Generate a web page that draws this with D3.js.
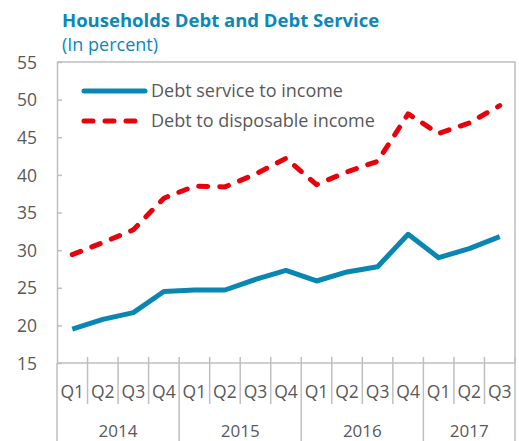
<!DOCTYPE html>
<html>
<head>
<meta charset="utf-8">
<script src="https://cdn.jsdelivr.net/npm/d3@7"></script>
<style>
  html, body { margin: 0; padding: 0; background: #fff; }
  svg { display: block; font-family: "Open Sans", "Noto Sans", sans-serif; }
</style>
</head>
<body>
<svg id="chart" width="519" height="441"></svg>
<script>
// Quarterly periods, Q1 2014 – Q3 2017
const periods = [
  "2014Q1", "2014Q2", "2014Q3", "2014Q4",
  "2015Q1", "2015Q2", "2015Q3", "2015Q4",
  "2016Q1", "2016Q2", "2016Q3", "2016Q4",
  "2017Q1", "2017Q2", "2017Q3"
];
const years = ["2014", "2015", "2016", "2017"];

// Series (percent)
const debtServiceToIncome = [19.5, 20.8, 21.7, 24.5, 24.7, 24.7, 26.1, 27.3, 25.9, 27.1, 27.8, 32.1, 29.0, 30.2, 31.8];
const debtToDisposableIncome = [29.4, 31.0, 32.7, 36.9, 38.5, 38.4, 40.1, 42.2, 38.7, 40.4, 41.8, 48.1, 45.5, 46.9, 49.2];

const yTicks = [15, 20, 25, 30, 35, 40, 45, 50, 55];

const seriesNames = ["Debt service to income", "Debt to disposable income"];

const textColor = "#595959";
const axisColor = "#bfbfbf";
const blue = "#0a86b3";
const red = "#e8000b";
const titleColor = "#0a88b8";

const svg = d3.select("#chart");
const margin = { left: 57, right: 4, top: 62, bottom: 78 };
const W = 519, H = 441;
const x0 = margin.left, x1 = W - margin.right;
const y0 = H - margin.bottom, y1 = margin.top;

const x = d3.scaleBand().domain(periods).range([x0, x1]).padding(0);
const y = d3.scaleLinear().domain([15, 55]).range([y0, y1]);

// Title
svg.append("text").attr("x", 62).attr("y", 27)
  .attr("fill", titleColor).attr("font-weight", 700).attr("font-size", 18.5)
  .text("Households Debt and Debt Service");
svg.append("text").attr("x", 62).attr("y", 51)
  .attr("fill", titleColor).attr("font-size", 18)
  .text("(In percent)");

// Plot frame (top and right)
svg.append("path")
  .attr("d", `M${x0},${y1}H${x1}V${y0}`)
  .attr("fill", "none").attr("stroke", axisColor).attr("stroke-width", 1.5);

// Y axis with inward ticks
const yAxis = d3.axisLeft(y).tickValues(yTicks).tickSize(-5).tickPadding(0).tickFormat(d3.format("d"));
const gy = svg.append("g").attr("transform", `translate(${x0},0)`).call(yAxis);
gy.select(".domain").attr("stroke", axisColor).attr("stroke-width", 1.5);
gy.selectAll(".tick line").attr("stroke", axisColor).attr("stroke-width", 1.5);
gy.selectAll(".tick text")
  .attr("x", 37 - x0).attr("text-anchor", "end").attr("dy", "0.35em")
  .attr("fill", textColor).attr("font-size", 17.5)
  .attr("font-family", "'Open Sans', sans-serif");
gy.selectAll(".tick").filter(d => d === 15 || d === 55).select("line").remove();
// left axis extends down through the category labels
svg.append("line").attr("x1", x0).attr("x2", x0).attr("y1", y0).attr("y2", H)
  .attr("stroke", axisColor).attr("stroke-width", 1.5);

// X axis baseline
svg.append("line").attr("x1", x0).attr("x2", x1).attr("y1", y0).attr("y2", y0)
  .attr("stroke", axisColor).attr("stroke-width", 1.5);

// Quarter separators and year separators
const xg = svg.append("g");
periods.forEach((p, i) => {
  if (i === 0) return;
  const xx = x(p);
  const isYearStart = p.endsWith("Q1");
  xg.append("line")
    .attr("x1", xx).attr("x2", xx)
    .attr("y1", y0 - 6).attr("y2", isYearStart ? H : y0 + 41)
    .attr("stroke", axisColor).attr("stroke-width", 1.5);
});
xg.append("line").attr("x1", x1).attr("x2", x1).attr("y1", y0 - 6).attr("y2", H)
  .attr("stroke", axisColor).attr("stroke-width", 1.5);

// Quarter labels
xg.selectAll("text.q").data(periods).join("text").attr("class", "q")
  .attr("x", d => x(d) + x.bandwidth() / 2).attr("y", y0 + 35)
  .attr("text-anchor", "middle").attr("fill", textColor).attr("font-size", 17.5)
  .text(d => d.slice(4));

// Year labels centred under their quarters
xg.selectAll("text.yr").data(years).join("text").attr("class", "yr")
  .attr("x", yr => {
    const ps = periods.filter(p => p.startsWith(yr));
    return (x(ps[0]) + x(ps[ps.length - 1]) + x.bandwidth()) / 2;
  })
  .attr("y", y0 + 74)
  .attr("text-anchor", "middle").attr("fill", textColor).attr("font-size", 17)
  .text(d => d);

// Lines
const line = d3.line()
  .x((d, i) => x(periods[i]) + x.bandwidth() / 2)
  .y(d => y(d));

svg.append("path").datum(debtToDisposableIncome)
  .attr("d", line).attr("fill", "none")
  .attr("stroke", red).attr("stroke-width", 5)
  .attr("stroke-linecap", "round").attr("stroke-linejoin", "round")
  .attr("stroke-dasharray", "9,12");

svg.append("path").datum(debtServiceToIncome)
  .attr("d", line).attr("fill", "none")
  .attr("stroke", blue).attr("stroke-width", 5)
  .attr("stroke-linejoin", "round");

// Legend
const legend = svg.append("g");
const legendItems = [
  { name: seriesNames[0], color: blue, dash: null, y: 91 },
  { name: seriesNames[1], color: red, dash: "9,12", y: 121 }
];
legendItems.forEach(it => {
  legend.append("line")
    .attr("x1", 84).attr("x2", 145).attr("y1", it.y).attr("y2", it.y)
    .attr("stroke", it.color).attr("stroke-width", 5)
    .attr("stroke-linecap", "round")
    .attr("stroke-dasharray", it.dash);
  legend.append("text").attr("x", 151).attr("y", it.y).attr("dy", "0.35em")
    .attr("fill", textColor).attr("font-size", 18)
    .text(it.name);
});
</script>
</body>
</html>
